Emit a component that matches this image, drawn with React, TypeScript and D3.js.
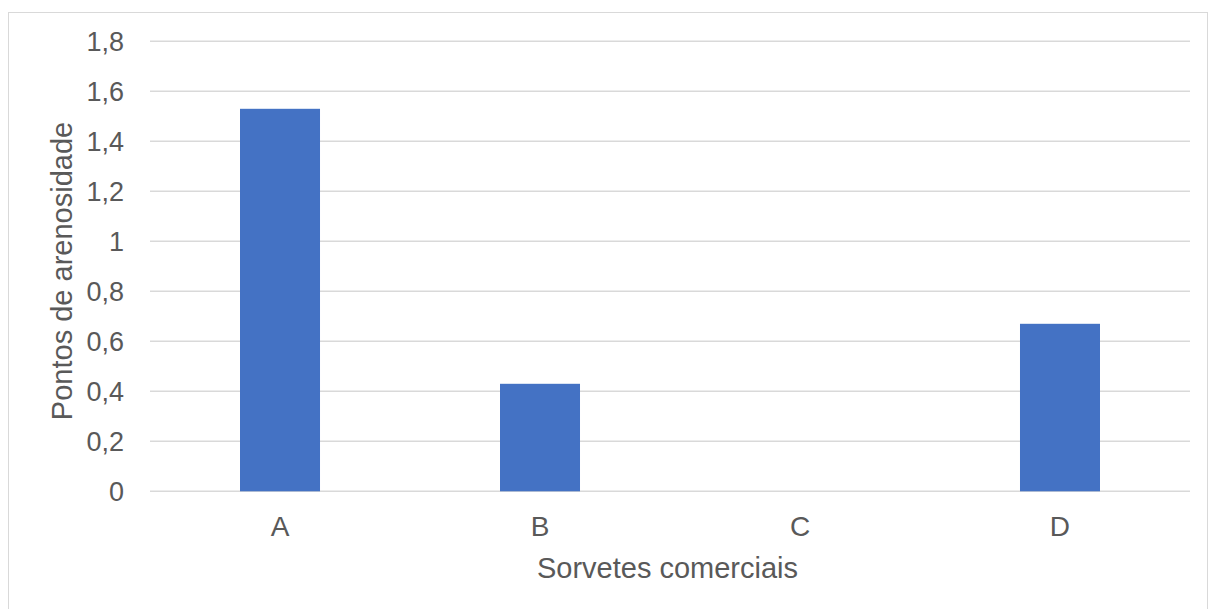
import React from "react";
import * as d3 from "d3";

const categories = ["A", "B", "C", "D"];
const values = [1.53, 0.43, 0, 0.67];
const yTicks = [0, 0.2, 0.4, 0.6, 0.8, 1, 1.2, 1.4, 1.6, 1.8];
const xTitle = "Sorvetes comerciais";
const yTitle = "Pontos de arenosidade";

const W = 1209;
const H = 609;
const margin = { left: 150, right: 19, top: 41.3, bottom: 117.7 };

export default function App() {
  const x = d3
    .scaleBand<string>()
    .domain(categories)
    .range([margin.left, W - margin.right])
    .paddingInner(0.6923)
    .paddingOuter(0.3462);
  const y = d3.scaleLinear().domain([0, 1.8]).range([H - margin.bottom, margin.top]);
  const fmt = (v: number) => String(v).replace(".", ",");
  const font = "'Liberation Sans', Arial, sans-serif";
  const textColor = "#595959";

  return (
    <svg
      width={W}
      height={H}
      style={{ position: "absolute", left: 0, top: 0, background: "#fff" }}
    >
      <rect x={8.5} y={12.5} width={1199} height={620} fill="#fff" stroke="#D9D9D9" strokeWidth={1} />
      {yTicks.map((t) => (
        <g key={t}>
          <line
            x1={margin.left}
            x2={W - margin.right}
            y1={y(t)}
            y2={y(t)}
            stroke="#D9D9D9"
            strokeWidth={1.5}
          />
          <text
            x={124}
            y={y(t) + 9.5}
            textAnchor="end"
            fontFamily={font}
            fontSize={27}
            fill={textColor}
          >
            {fmt(t)}
          </text>
        </g>
      ))}
      {categories.map((c, i) => (
        <g key={c}>
          {values[i] > 0 && (
            <rect
              x={x(c)}
              y={y(values[i])}
              width={x.bandwidth()}
              height={y(0) - y(values[i])}
              fill="#4472C4"
            />
          )}
          <text
            x={(x(c) as number) + x.bandwidth() / 2}
            y={536}
            textAnchor="middle"
            fontFamily={font}
            fontSize={28}
            fill={textColor}
          >
            {c}
          </text>
        </g>
      ))}
      <text
        x={667.5}
        y={578}
        textAnchor="middle"
        fontFamily={font}
        fontSize={29}
        fill={textColor}
      >
        {xTitle}
      </text>
      <text
        transform={`translate(72, 271) rotate(-90)`}
        textAnchor="middle"
        fontFamily={font}
        fontSize={29}
        fill={textColor}
      >
        {yTitle}
      </text>
    </svg>
  );
}
